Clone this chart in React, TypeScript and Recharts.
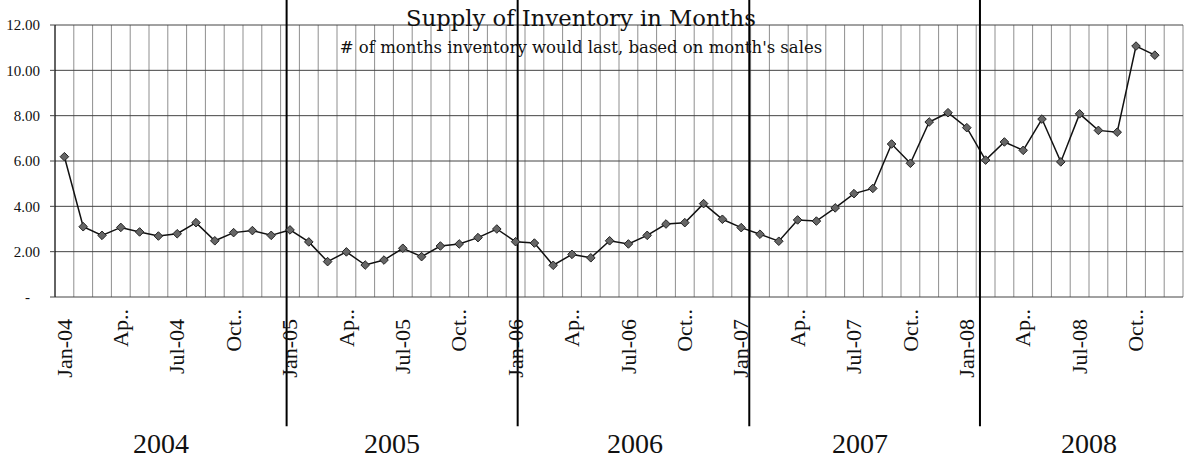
import React from 'react'
import {
  LineChart,
  Line,
  XAxis,
  YAxis,
  CartesianGrid,
  ReferenceLine,
  ReferenceDot,
} from 'recharts'

// Months of supply, Jan-04 .. Nov-08
const SUPPLY_2004 = [6.19, 3.1, 2.72, 3.07, 2.87, 2.69, 2.79, 3.28, 2.48, 2.84, 2.93, 2.72]
const SUPPLY_2005 = [2.96, 2.43, 1.56, 1.99, 1.41, 1.63, 2.15, 1.78, 2.25, 2.34, 2.62, 3.0]
const SUPPLY_2006 = [2.44, 2.38, 1.4, 1.88, 1.73, 2.48, 2.34, 2.72, 3.22, 3.28, 4.12, 3.43]
const SUPPLY_2007 = [3.06, 2.77, 2.46, 3.4, 3.35, 3.93, 4.56, 4.79, 6.75, 5.9, 7.72, 8.13]
const SUPPLY_2008 = [7.47, 6.04, 6.84, 6.47, 7.85, 5.96, 8.08, 7.35, 7.27, 11.07, 10.67]

const MONTH_COUNT = 60 // Jan-04 .. Dec-08 slots on the axis

// every third month gets a label (Excel truncates the long ones)
const TICK_LABELS = [
  'Jan-04', 'Ap..', 'Jul-04', 'Oct..',
  'Jan-05', 'Ap..', 'Jul-05', 'Oct..',
  'Jan-06', 'Ap..', 'Jul-06', 'Oct..',
  'Jan-07', 'Ap..', 'Jul-07', 'Oct..',
  'Jan-08', 'Ap..', 'Jul-08', 'Oct..',
]

const Y_TICKS = [0, 2, 4, 6, 8, 10, 12]

// hand drawn year dividers and year captions, in month units
const YEAR_DIVIDERS = [12.32, 24.61, 36.93, 49.2]
const YEARS = ['2004', '2005', '2006', '2007', '2008']
const YEAR_CENTERS = [5.64, 17.93, 30.85, 42.82, 55.0]

const SERIF = '"Liberation Serif", "Times New Roman", serif'
const TITLE_FONT = '"DejaVu Serif", serif'

const supply = [...SUPPLY_2004, ...SUPPLY_2005, ...SUPPLY_2006, ...SUPPLY_2007, ...SUPPLY_2008]
const data = supply.map((v, i) => ({ x: i + 0.5, v }))

const monthEdges = Array.from({ length: MONTH_COUNT + 1 }, (_, i) => i)
const quarterEdges = monthEdges.filter((m) => m % 3 === 0)
const labelTicks = TICK_LABELS.map((_, i) => i * 3 + 0.5)

const Diamond = (props: any) => {
  const { cx, cy, index } = props
  if (cx == null || cy == null) return <g key={index} />
  const r = 4.3
  return (
    <path
      key={index}
      d={`M${cx},${cy - r}L${cx + r},${cy}L${cx},${cy + r}L${cx - r},${cy}Z`}
      fill="#666"
      stroke="#222"
      strokeWidth={1}
    />
  )
}

const MonthTick = (props: any) => {
  const { x, y, payload } = props
  const label = TICK_LABELS[Math.round((payload.value - 0.5) / 3)]
  const short = label.endsWith('..')
  const top = y + (short ? 12 : 22)
  return (
    <text
      transform={`translate(${x},${top}) rotate(-90)`}
      textAnchor="end"
      dy="0.33em"
      fontFamily={SERIF}
      fontSize={22}
      fill="#111"
    >
      {label}
    </text>
  )
}

const ValueTick = (props: any) => {
  const { x, y, payload } = props
  const zero = payload.value === 0
  return (
    <text
      x={zero ? x - 10 : x}
      y={y}
      dy="0.35em"
      textAnchor="end"
      fontFamily={SERIF}
      fontSize={15}
      fill="#111"
    >
      {zero ? '-' : payload.value.toFixed(2)}
    </text>
  )
}

export default function App() {
  return (
    <div
      style={{
        position: 'absolute',
        left: 0,
        top: 0,
        width: 1184,
        height: 460,
        overflow: 'hidden',
        background: '#fff',
      }}
    >
      <LineChart
        width={1200}
        height={460}
        data={data}
        margin={{ top: 25, right: 17, bottom: 0, left: 0 }}
      >
        <CartesianGrid
          xAxisId="grid"
          horizontal={false}
          verticalValues={monthEdges}
          stroke="#8f8f8f"
        />
        <CartesianGrid xAxisId="grid" vertical={false} stroke="#444" />
        <XAxis
          xAxisId="grid"
          type="number"
          dataKey="x"
          domain={[0, MONTH_COUNT]}
          ticks={quarterEdges}
          interval={0}
          height={0}
          tickSize={6}
          tick={() => <g />}
          axisLine={{ stroke: '#000' }}
          tickLine={{ stroke: '#000' }}
        />
        <XAxis
          xAxisId="lab"
          type="number"
          dataKey="x"
          domain={[0, MONTH_COUNT]}
          ticks={labelTicks}
          interval={0}
          height={163}
          tickSize={0}
          tickMargin={0}
          axisLine={false}
          tickLine={false}
          tick={<MonthTick />}
        />
        <YAxis
          type="number"
          domain={[0, 12]}
          ticks={Y_TICKS}
          interval={0}
          width={55}
          tickSize={5}
          tickMargin={10}
          axisLine={{ stroke: '#000' }}
          tickLine={{ stroke: '#444' }}
          tick={<ValueTick />}
        />
        <Line
          xAxisId="lab"
          type="linear"
          dataKey="v"
          stroke="#111"
          strokeWidth={1.5}
          dot={Diamond}
          activeDot={false}
          isAnimationActive={false}
        />
        {YEAR_DIVIDERS.map((m) => (
          <ReferenceLine
            key={m}
            xAxisId="grid"
            segment={[
              { x: m, y: 13.2 },
              { x: m, y: -5.7 },
            ]}
            stroke="#000"
            strokeWidth={2}
            ifOverflow="visible"
          />
        ))}
        {YEARS.map((yr, i) => (
          <ReferenceDot
            key={yr}
            xAxisId="grid"
            x={YEAR_CENTERS[i]}
            y={-6.44}
            r={0}
            fill="none"
            stroke="none"
            ifOverflow="visible"
            label={{ value: yr, position: 'center', fontSize: 28, fill: '#111', fontFamily: SERIF }}
          />
        ))}
      </LineChart>
      <svg
        width={1184}
        height={460}
        style={{ position: 'absolute', left: 0, top: 0, pointerEvents: 'none' }}
      >
        <text x={581} y={26} textAnchor="middle" fontFamily={TITLE_FONT} fontSize={22.7} fill="#111">
          Supply of Inventory in Months
        </text>
        <text x={581} y={53} textAnchor="middle" fontFamily={TITLE_FONT} fontSize={16.5} fill="#111">
          # of months inventory would last, based on month's sales
        </text>
      </svg>
    </div>
  )
}
